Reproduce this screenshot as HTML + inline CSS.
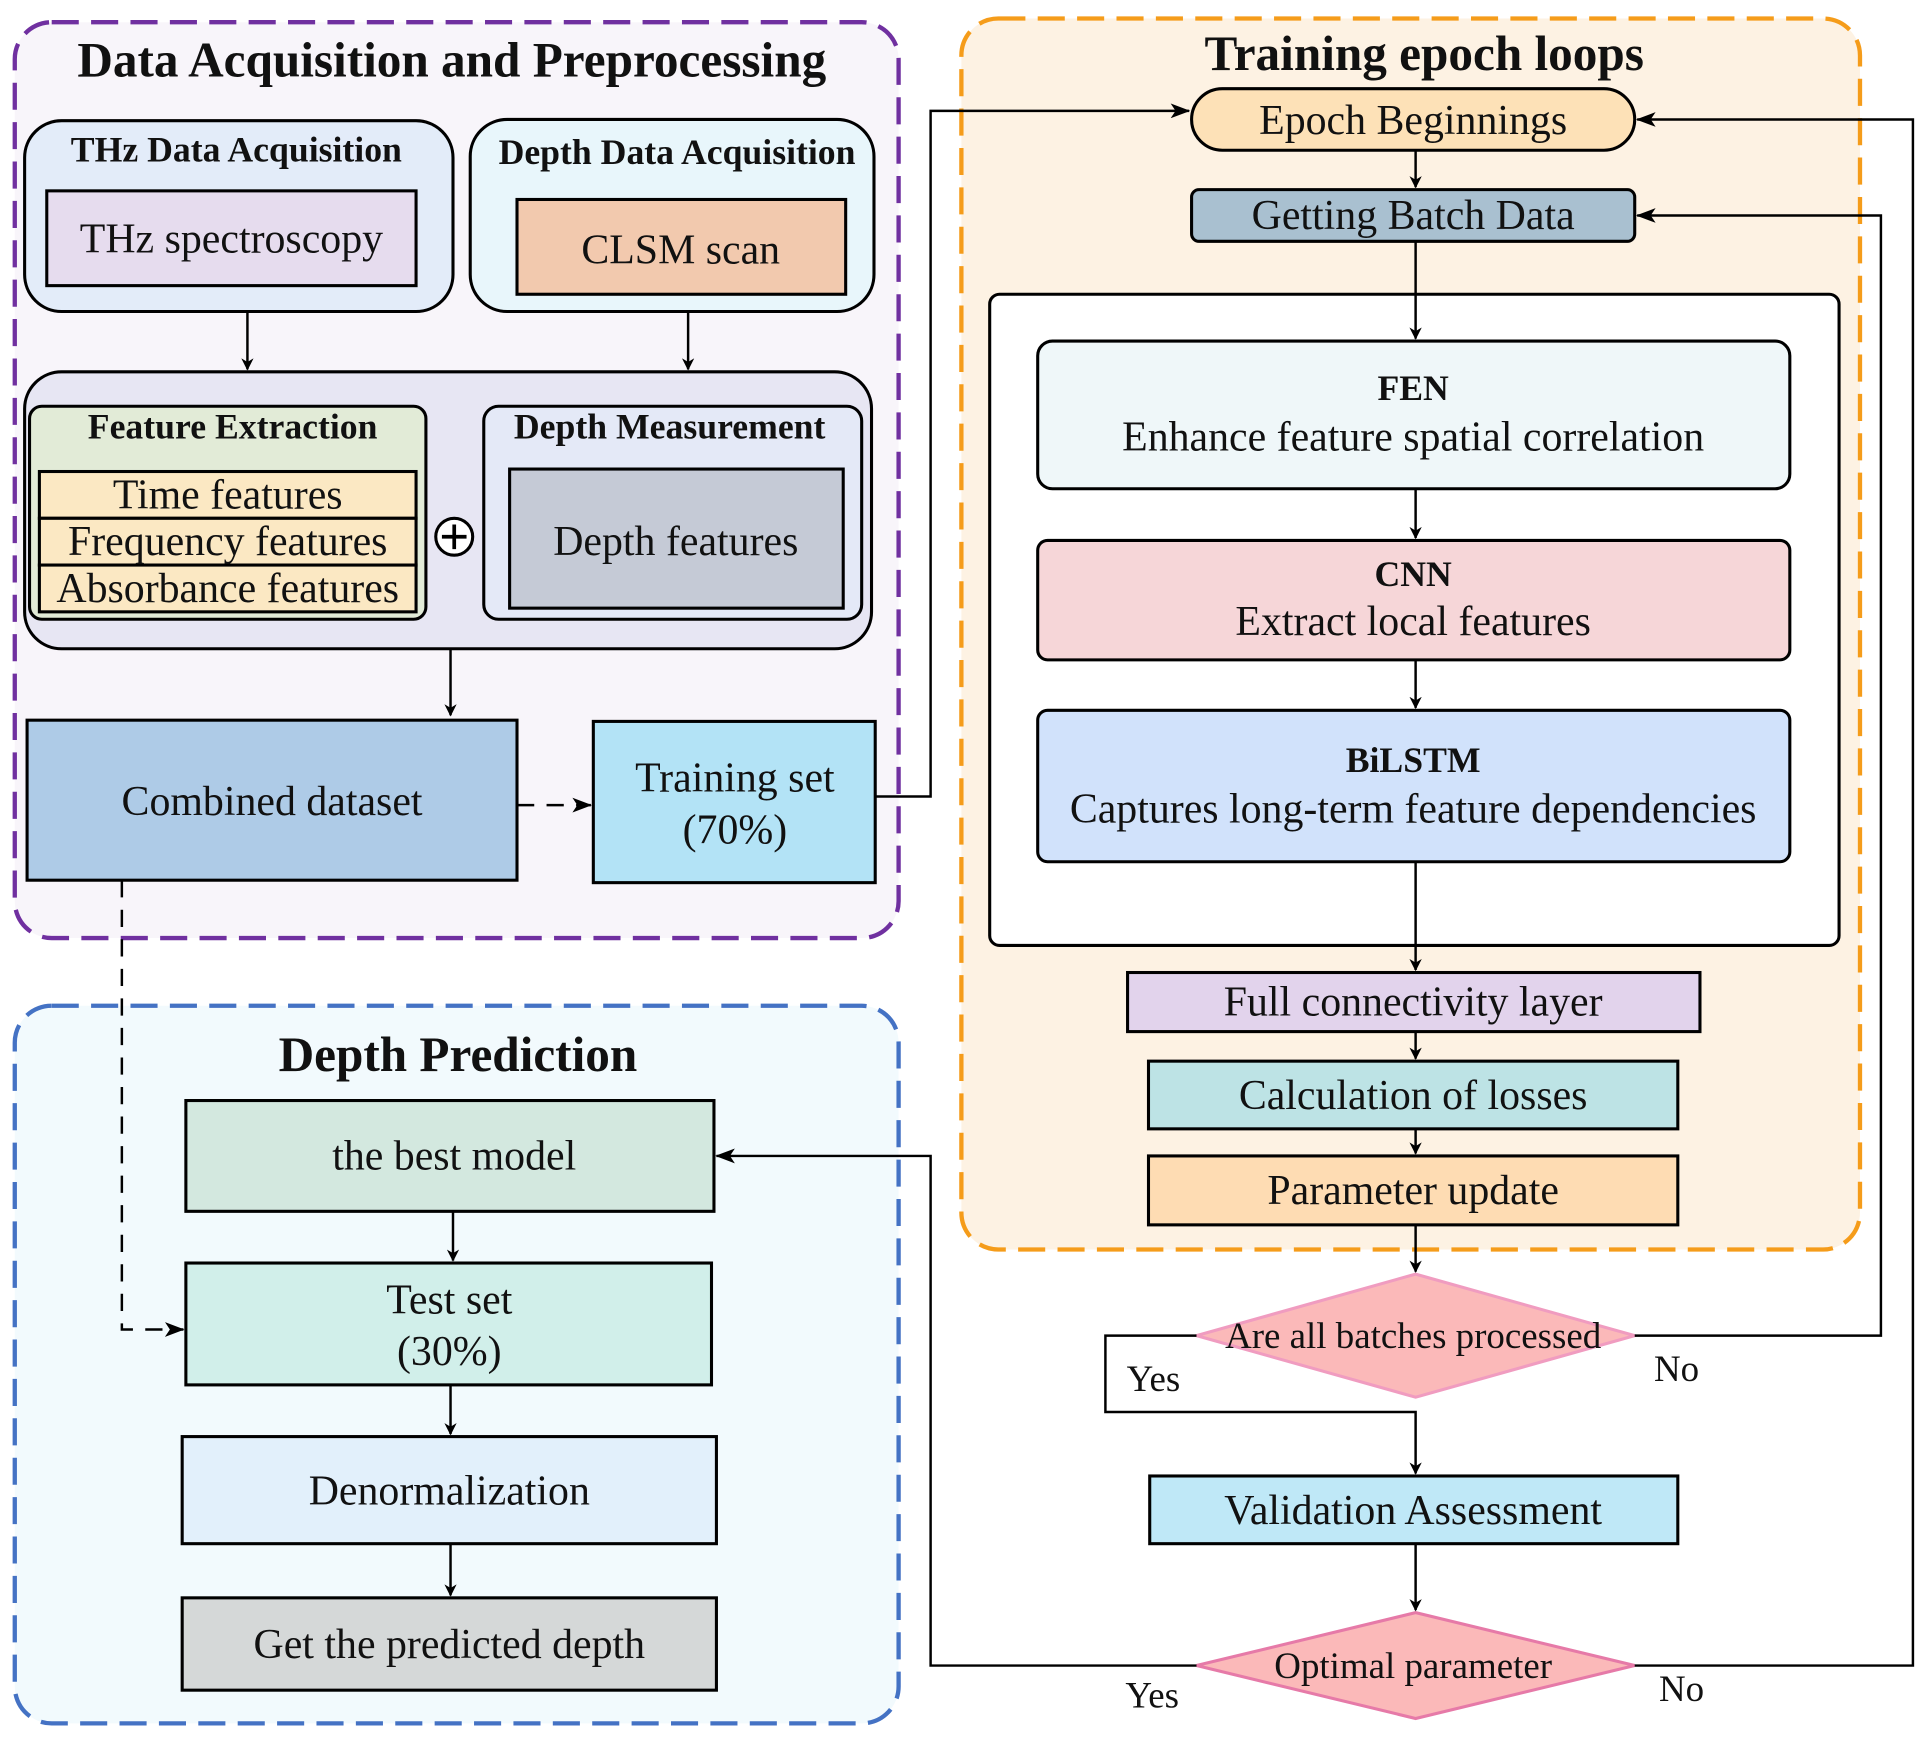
<!DOCTYPE html>
<html><head><meta charset="utf-8"><style>html,body{margin:0;padding:0;background:#fff}svg{display:block}text{font-family:"Liberation Serif",serif;fill:#111}</style></head><body>
<svg width="1924" height="1737" viewBox="0 0 1563 1411" xmlns="http://www.w3.org/2000/svg">
<defs><marker id="a" markerWidth="10" markerHeight="10" refX="9" refY="5" orient="auto" markerUnits="userSpaceOnUse"><path d="M0,0 L10,5 L0,10 L3,5 z" fill="#000"/></marker>
<marker id="b" markerWidth="16" markerHeight="12" refX="15" refY="6" orient="auto" markerUnits="userSpaceOnUse"><path d="M0,0 L16,6 L0,12 L4,6 z" fill="#000"/></marker></defs>
<g stroke="#000" stroke-width="2.5">
<rect x="12" y="18" width="718" height="744" rx="30" fill="#f8f5fa" stroke="#7030a0" stroke-width="3.5" stroke-dasharray="22,10"/>
<rect x="781" y="15" width="730" height="1000" rx="30" fill="#fdf2e3" stroke="#f59c1a" stroke-width="3.5" stroke-dasharray="22,10"/>
<rect x="12" y="817" width="718" height="583" rx="30" fill="#f2fafd" stroke="#4472c4" stroke-width="3.5" stroke-dasharray="22,10"/>
<rect x="20" y="98" width="348" height="155" rx="30" fill="#e3ecf9"/>
<rect x="38" y="155" width="300" height="77" fill="#e6dcee"/>
<rect x="382" y="97" width="328" height="156" rx="30" fill="#e8f6fb"/>
<rect x="420" y="162" width="267" height="77" fill="#f2c9ae"/>
<rect x="20" y="302" width="688" height="225" rx="30" fill="#e7e6f3"/>
<rect x="24" y="330" width="322" height="173" rx="10" fill="#e2ebd7"/>
<rect x="32" y="383" width="306" height="38" fill="#fbe8c3"/>
<rect x="32" y="421" width="306" height="38" fill="#fbe8c3"/>
<rect x="32" y="459" width="306" height="38" fill="#fbe8c3"/>
<rect x="393" y="330" width="307" height="173" rx="12" fill="#e4e9f7"/>
<rect x="414" y="381" width="271" height="113" fill="#c5cad6"/>
<circle cx="369" cy="436" r="15" fill="#fff"/>
<path d="M359,436 H379 M369,426 V446" stroke-width="3"/>
<rect x="22" y="585" width="398" height="130" fill="#aecbe7"/>
<rect x="482" y="586" width="229" height="131" fill="#b3e3f6"/>
<rect x="968" y="72" width="360" height="50" rx="25" fill="#fde1b7"/>
<rect x="968" y="154" width="360" height="42" rx="6" fill="#a9c0d0"/>
<rect x="804" y="239" width="690" height="529" rx="8" fill="#fff"/>
<rect x="843" y="277" width="611" height="120" rx="12" fill="#eff7f9"/>
<rect x="843" y="439" width="611" height="97" rx="8" fill="#f6d6d8"/>
<rect x="843" y="577" width="611" height="123" rx="8" fill="#d1e2fb"/>
<rect x="916" y="790" width="465" height="48" fill="#e2d3ec"/>
<rect x="933" y="862" width="430" height="55" fill="#bde3e5"/>
<rect x="933" y="939" width="430" height="56" fill="#fedcb3"/>
<polygon points="972,1085 1150,1035 1328,1085 1150,1135" fill="#fbb9b9" stroke="#f09cc0"/>
<rect x="934" y="1199" width="429" height="55" fill="#bfe8f7"/>
<polygon points="972,1353 1150,1310 1328,1353 1150,1396" fill="#fbb9b9" stroke="#e67aa8"/>
<rect x="151" y="894" width="429" height="90" fill="#d3e8df"/>
<rect x="151" y="1026" width="427" height="99" fill="#d1efea"/>
<rect x="148" y="1167" width="434" height="87" fill="#e2f0fb"/>
<rect x="148" y="1298" width="434" height="75" fill="#d5d8d8"/>
</g>
<g stroke="#000" stroke-width="2" fill="none">
<path d="M201,253 V300" marker-end="url(#a)"/>
<path d="M559,253 V300" marker-end="url(#a)"/>
<path d="M366,527 V581" marker-end="url(#a)"/>
<path d="M420,654 H480" stroke-dasharray="14,10" marker-end="url(#b)"/>
<path d="M711,647 H756 V90 H966" marker-end="url(#b)"/>
<path d="M1150,122 V152" marker-end="url(#a)"/>
<path d="M1150,196 V275" marker-end="url(#a)"/>
<path d="M1150,397 V437" marker-end="url(#a)"/>
<path d="M1150,536 V575" marker-end="url(#a)"/>
<path d="M1150,700 V788" marker-end="url(#a)"/>
<path d="M1150,838 V860" marker-end="url(#a)"/>
<path d="M1150,917 V937" marker-end="url(#a)"/>
<path d="M1150,995 V1033" marker-end="url(#a)"/>
<path d="M1328,1085 H1528 V175 H1330" marker-end="url(#b)"/>
<path d="M972,1085 H898 V1147 H1150 V1197" marker-end="url(#a)"/>
<path d="M1150,1254 V1308" marker-end="url(#a)"/>
<path d="M1328,1353 H1554 V97 H1330" marker-end="url(#b)"/>
<path d="M972,1353 H756 V939 H582" marker-end="url(#b)"/>
<path d="M368,984 V1024" marker-end="url(#a)"/>
<path d="M99,715 V1080 H149" stroke-dasharray="14,10" marker-end="url(#b)"/>
<path d="M366,1125 V1165" marker-end="url(#a)"/>
<path d="M366,1254 V1296" marker-end="url(#a)"/>
</g>
<g text-anchor="middle" font-size="34">
<text x="367" y="62" font-weight="bold" font-size="40">Data Acquisition and Preprocessing</text>
<text x="192" y="131" font-weight="bold" font-size="29">THz Data Acquisition</text>
<text x="188" y="205">THz spectroscopy</text>
<text x="550" y="133" font-weight="bold" font-size="29">Depth Data Acquisition</text>
<text x="553" y="214">CLSM scan</text>
<text x="189" y="356" font-weight="bold" font-size="29">Feature Extraction</text>
<text x="185" y="413">Time features</text>
<text x="185" y="451">Frequency features</text>
<text x="185" y="489">Absorbance features</text>
<text x="544" y="356" font-weight="bold" font-size="29">Depth Measurement</text>
<text x="549" y="451">Depth features</text>
<text x="221" y="662">Combined dataset</text>
<text x="597" y="643">Training set</text>
<text x="597" y="685">(70%)</text>
<text x="1157" y="57" font-weight="bold" font-size="40">Training epoch loops</text>
<text x="1148" y="109">Epoch Beginnings</text>
<text x="1148" y="186">Getting Batch Data</text>
<text x="1148" y="325" font-weight="bold" font-size="29">FEN</text>
<text x="1148" y="366">Enhance feature spatial correlation</text>
<text x="1148" y="476" font-weight="bold" font-size="29">CNN</text>
<text x="1148" y="516">Extract local features</text>
<text x="1148" y="627" font-weight="bold" font-size="29">BiLSTM</text>
<text x="1148" y="668">Captures long-term feature dependencies</text>
<text x="1148" y="825">Full connectivity layer</text>
<text x="1148" y="901">Calculation of losses</text>
<text x="1148" y="978">Parameter update</text>
<text x="1148" y="1095" font-size="30">Are all batches processed</text>
<text x="1362" y="1122" font-size="30">No</text>
<text x="937" y="1130" font-size="30">Yes</text>
<text x="1148" y="1238">Validation Assessment</text>
<text x="1148" y="1363" font-size="30">Optimal parameter</text>
<text x="1366" y="1382" font-size="30">No</text>
<text x="936" y="1387" font-size="30">Yes</text>
<text x="372" y="870" font-weight="bold" font-size="40">Depth Prediction</text>
<text x="369" y="950">the best model</text>
<text x="365" y="1067">Test set</text>
<text x="365" y="1109">(30%)</text>
<text x="365" y="1222">Denormalization</text>
<text x="365" y="1347">Get the predicted depth</text>
</g>
</svg>
</body></html>
